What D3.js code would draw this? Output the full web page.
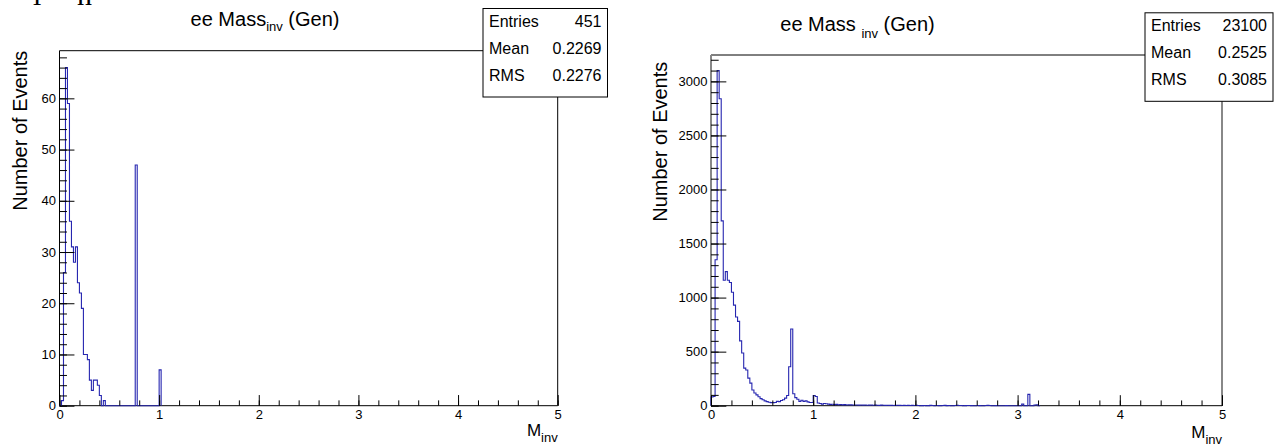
<!DOCTYPE html>
<html>
<head>
<meta charset="utf-8">
<script src="https://cdn.jsdelivr.net/npm/d3@7"></script>
<style>
  body { margin: 0; background: #fff; }
  svg { display: block; font-family: "Liberation Sans", Arial, Helvetica, sans-serif; }
</style>
</head>
<body>
<svg id="chart" width="1275" height="446"></svg>
<script>
// both histograms use 0.02 wide bins starting at 0
const binWidth = 0.02;

// left histogram, counts per bin
const leftCounts = [0, 1, 26, 66, 59, 36, 31, 28, 31, 24, 22, 19, 10, 10, 9, 5, 3, 5, 5, 4, 2, 0, 1,
  0, 0, 0, 0, 0, 0, 0, 0, 0, 0, 0, 0, 0, 0, 0,
  47,
  0, 0, 0, 0, 0, 0, 0, 0, 0, 0, 0,
  7];

// right histogram, counts per bin
const rightCounts = [80, 85, 1350, 3100, 2840, 1710, 1160, 1240, 1160, 1140, 1050, 930, 820, 780,
  600, 487, 348, 330, 255, 209, 145, 117, 100, 83, 65, 55, 45, 38, 32, 28,
  28, 30, 40, 38, 48, 55, 70, 95, 360, 710, 110, 75, 60, 40, 50, 40,
  45, 35, 30, 30, 95, 85, 25, 20, 15, 20,
  18, 15, 12, 14, 10, 12, 9, 11, 8, 10, 7, 9, 8, 6, 7,
  6, 5, 7, 5, 6, 4, 5, 6, 4, 5, 4, 3, 5, 4, 3, 4, 3, 4, 2, 3, 4, 3, 2, 3, 2, 3, 2, 4, 2, 3,
  2, 0, 1, 2, 0, 1, 3, 2, 0, 2, 1, 0, 2, 3, 1, 2, 0, 0, 2, 3, 2, 2, 0, 1, 2, 2, 1, 0, 0, 2,
  1, 0, 0, 2, 3, 2, 0, 0, 1, 0, 0, 0, 0, 1, 0, 0, 0, 0, 0, 0, 0, 15, 0, 0, 105, 0, 0, 6, 8, 0];

const xTicks = [0, 1, 2, 3, 4, 5];
const leftYTicks = [0, 10, 20, 30, 40, 50, 60];
const rightYTicks = [0, 500, 1000, 1500, 2000, 2500, 3000];

const statNames = ["Entries", "Mean", "RMS"];
const leftStats = ["451", "0.2269", "0.2276"];
const rightStats = ["23100", "0.2525", "0.3085"];

const FONT = "Liberation Sans, Arial, Helvetica, sans-serif";
const svg = d3.select("#chart");

// cut-off text of the page above the plots
svg.append("g")
  .attr("font-family", "Liberation Serif, serif")
  .attr("font-size", 30)
  .selectAll("text")
  .data([{ t: "l", x: 33 }, { t: "n", x: 77 }])
  .join("text")
  .attr("x", d => d.x)
  .attr("y", 5)
  .text(d => d.t);

function drawPanel(p) {
  const g = svg.append("g");
  const x = d3.scaleLinear().domain([0, 5]).range([p.x0, p.x1]);
  const y = d3.scaleLinear().domain([0, p.yMax]).range([p.y1, p.y0]);
  const fw = p.x1 - p.x0, fh = p.y1 - p.y0;

  // frame
  g.append("line").attr("x1", p.x0).attr("x2", p.x1).attr("y1", p.y0).attr("y2", p.y0)
    .attr("stroke", "#000");
  g.append("line").attr("x1", p.x1).attr("x2", p.x1).attr("y1", p.y0).attr("y2", p.y1)
    .attr("stroke", p.sideColor).attr("stroke-width", p.sideWidth);
  g.append("line").attr("x1", p.x0).attr("x2", p.x0).attr("y1", p.y0).attr("y2", p.y1)
    .attr("stroke", p.sideColor).attr("stroke-width", p.sideWidth);
  g.append("line").attr("x1", p.x0).attr("x2", p.x1).attr("y1", p.y1).attr("y2", p.y1)
    .attr("stroke", "#000");

  // histogram outline
  const pts = [[0, 0]];
  p.counts.forEach((c, i) => {
    pts.push([i * binWidth, c], [(i + 1) * binWidth, c]);
  });
  pts.push([p.counts.length * binWidth, 0]);
  g.append("path")
    .attr("d", d3.line().x(d => x(d[0])).y(d => y(d[1]))(pts))
    .attr("fill", "none")
    .attr("stroke", "#2626b0")
    .attr("stroke-width", 1.1);

  // y axis: minor ticks then majors with labels
  g.append("g")
    .attr("transform", `translate(${p.x0},0)`)
    .call(d3.axisLeft(y).tickValues(d3.range(0, p.yMax, p.yMinor)).tickSize(-fw * 0.015).tickFormat(""))
    .call(a => a.select(".domain").remove());
  g.append("g")
    .attr("transform", `translate(${p.x0},0)`)
    .call(d3.axisLeft(y).tickValues(p.yTicks).tickSize(-fw * 0.03).tickPadding(3.5).tickFormat(d3.format("d")))
    .call(a => a.select(".domain").remove())
    .attr("font-family", FONT).attr("font-size", 13)
    .selectAll("text").attr("fill", "#000");

  // x axis
  g.append("g")
    .attr("transform", `translate(0,${p.y1})`)
    .call(d3.axisBottom(x).tickValues(d3.range(0, 5.01, 0.2)).tickSize(-fh * 0.015).tickFormat(""))
    .call(a => a.select(".domain").remove());
  g.append("g")
    .attr("transform", `translate(0,${p.y1})`)
    .call(d3.axisBottom(x).tickValues(xTicks).tickSize(-fh * 0.03).tickPadding(4.5).tickFormat(d3.format("d")))
    .call(a => a.select(".domain").remove())
    .attr("font-family", FONT).attr("font-size", 13)
    .selectAll("text").attr("fill", "#000");

  // axis titles
  g.append("text")
    .attr("transform", `translate(${p.yTitleX},${p.yTitleTop}) rotate(-90)`)
    .attr("text-anchor", "end")
    .attr("font-family", FONT).attr("font-size", 20)
    .text("Number of Events");

  const xt = g.append("text")
    .attr("x", p.x1).attr("y", p.xTitleY)
    .attr("text-anchor", "end")
    .attr("font-family", FONT);
  xt.append("tspan").attr("font-size", 17).text("M");
  xt.append("tspan").attr("font-size", 13).attr("dy", 6).text("inv");

  // title
  const tt = g.append("text")
    .attr("x", p.titleX).attr("y", p.titleY)
    .attr("text-anchor", "middle")
    .attr("font-family", FONT).attr("font-size", 20);
  tt.append("tspan").text(p.titleA);
  tt.append("tspan").attr("font-size", 13).attr("dy", p.subDy).text("inv");
  tt.append("tspan").attr("dy", -p.subDy).text(" (Gen)");

  // stats box, drawn over the frame like ROOT does
  const b = p.box;
  g.append("rect")
    .attr("x", b.x).attr("y", b.y).attr("width", b.w).attr("height", b.h)
    .attr("fill", "#fff").attr("stroke", "#000");
  const lineStep = 27;
  const rows = g.append("g").attr("font-family", FONT).attr("font-size", 16);
  rows.selectAll("text.name")
    .data(statNames)
    .join("text")
    .attr("class", "name")
    .attr("x", b.x + 6)
    .attr("y", (d, i) => b.y + 18.5 + lineStep * i)
    .text(d => d);
  rows.selectAll("text.val")
    .data(p.stats)
    .join("text")
    .attr("class", "val")
    .attr("x", b.x + b.w - 6)
    .attr("y", (d, i) => b.y + 18.5 + lineStep * i)
    .attr("text-anchor", "end")
    .text(d => d);
}

drawPanel({
  counts: leftCounts, yMax: 69.3, yTicks: leftYTicks, yMinor: 2,
  x0: 59.5, x1: 557.7, y0: 50.7, y1: 405.7,
  sideColor: "#000", sideWidth: 1,
  yTitleX: 27, yTitleTop: 50.7, xTitleY: 436,
  titleX: 265, titleY: 26, titleA: "ee Mass", subDy: 5,
  box: { x: 483, y: 8.5, w: 124.5, h: 88.5 }, stats: leftStats
});

drawPanel({
  counts: rightCounts, yMax: 3244, yTicks: rightYTicks, yMinor: 100,
  x0: 711, x1: 1222, y0: 55, y1: 405.7,
  sideColor: "#888", sideWidth: 2,
  yTitleX: 667, yTitleTop: 61.7, xTitleY: 438,
  titleX: 857.5, titleY: 30.7, titleA: "ee Mass ", subDy: 7,
  box: { x: 1145, y: 12.8, w: 128, h: 88.5 }, stats: rightStats
});
</script>
</body>
</html>
